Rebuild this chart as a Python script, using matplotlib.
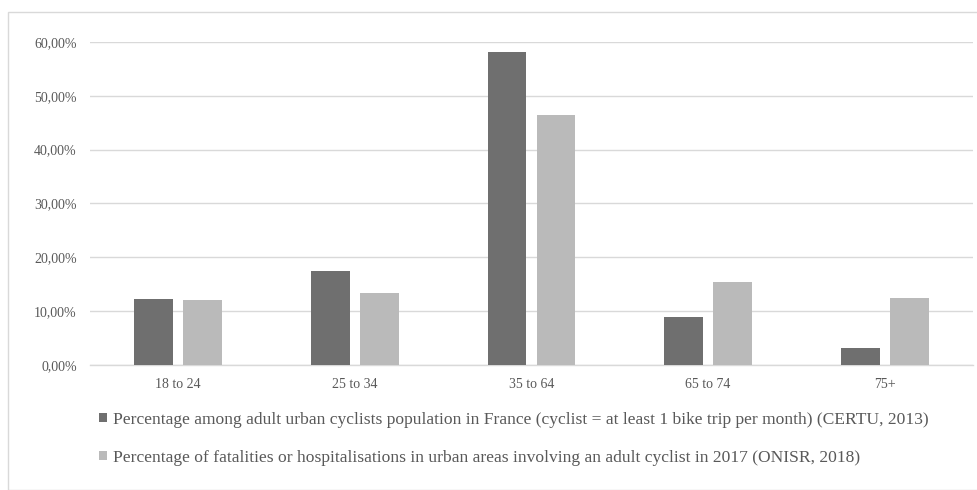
import matplotlib.pyplot as plt
import numpy as np
from matplotlib.patches import Rectangle
from matplotlib.ticker import FuncFormatter

# Age groups and the two series (fractions)
age_groups = ["18 to 24", "25 to 34", "35 to 64", "65 to 74", "75+"]
cyclists_share = [0.123, 0.175, 0.582, 0.090, 0.031]
casualties_share = [0.120, 0.133, 0.465, 0.155, 0.125]
series_labels = [
    "Percentage among adult urban cyclists population in France (cyclist = at least 1 bike trip per month) (CERTU, 2013)",
    "Percentage of fatalities or hospitalisations in urban areas involving an adult cyclist in 2017 (ONISR, 2018)",
]
y_ticks = [0.0, 0.1, 0.2, 0.3, 0.4, 0.5, 0.6]

text_color = "#595959"
grid_color = "#d9d9d9"

plt.rcParams['font.family'] = ['Liberation Serif', 'DejaVu Serif']

fig = plt.figure(figsize=(9.77, 4.9), dpi=100)
W, H = 977, 490

# axes placed in pixel terms
left, right, top, bottom = 90, 973, 42, 365
ax = fig.add_axes([left / W, 1 - bottom / H, (right - left) / W, (bottom - top) / H])

x = np.arange(len(age_groups))
bar_w = 0.22
gap = 0.057
b1 = ax.bar(x - (bar_w + gap) / 2, cyclists_share, bar_w, color="#6f6f6f", zorder=3,
            label=series_labels[0])
b2 = ax.bar(x + (bar_w + gap) / 2, casualties_share, bar_w, color="#bababa", zorder=3,
            label=series_labels[1])

ax.set_xlim(-0.5, len(age_groups) - 0.5)
ax.set_ylim(0, 0.6)
ax.set_yticks(y_ticks)
ax.yaxis.set_major_formatter(FuncFormatter(lambda v, p: f"{v * 100:.2f}%".replace(".", ",")))
ax.set_xticks(x)
ax.set_xticklabels(age_groups)

ax.grid(axis="y", color=grid_color, linewidth=1, zorder=0)
for s in ["top", "right", "left"]:
    ax.spines[s].set_visible(False)
ax.spines["bottom"].set_color(grid_color)
ax.spines["bottom"].set_linewidth(1)
ax.tick_params(axis="both", length=0, colors=text_color, labelsize=10)
ax.tick_params(axis="y", pad=9.5)
ax.tick_params(axis="x", pad=9)

fig.legend(handles=[b1, b2], loc="upper left", bbox_to_anchor=(83 / W, 1 - 396 / H),
           frameon=False, fontsize=12.6, labelcolor=text_color,
           handlelength=0.45, handleheight=0.45, handletextpad=0.35, labelspacing=1.25)

# light frame around the chart
fig.patches.append(Rectangle((8 / W, 0), 1.0, 1 - 12 / H, transform=fig.transFigure,
                             fill=False, edgecolor=grid_color, linewidth=1))

fig.savefig("out.png", dpi=100)
